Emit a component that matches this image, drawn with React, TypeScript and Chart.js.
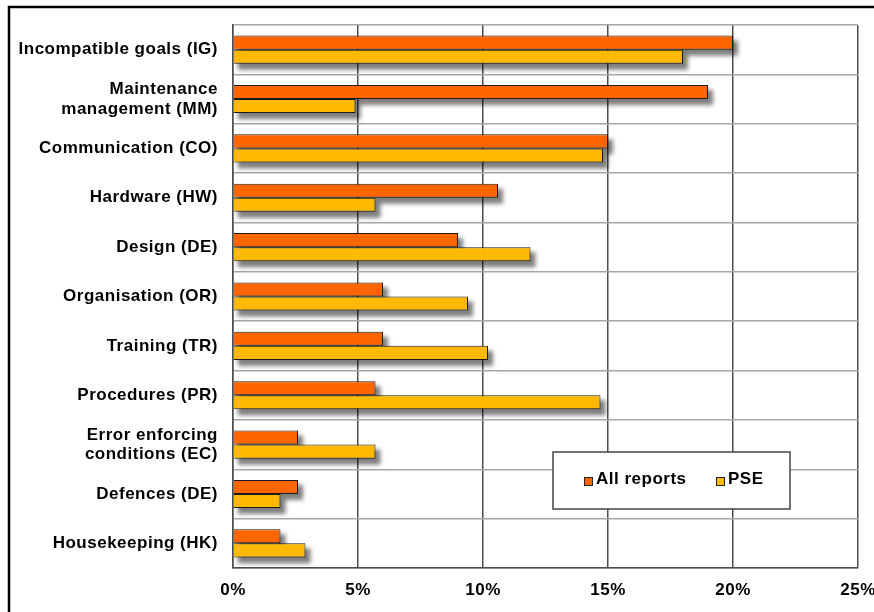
import React, { useEffect, useRef } from "react";
import { Chart, registerables } from "chart.js";

Chart.register(...registerables);

const categories: (string | string[])[] = [
  "Incompatible goals (IG)",
  ["Maintenance", "management (MM)"],
  "Communication (CO)",
  "Hardware (HW)",
  "Design (DE)",
  "Organisation (OR)",
  "Training (TR)",
  "Procedures (PR)",
  ["Error enforcing", "conditions (EC)"],
  "Defences (DE)",
  "Housekeeping (HK)",
];

const allReports = [20, 19, 15, 10.6, 9, 6, 6, 5.7, 2.6, 2.6, 1.9];
const pse = [18, 4.9, 14.8, 5.7, 11.9, 9.4, 10.2, 14.7, 5.7, 1.9, 2.9];

const seriesNames = ["All reports", "PSE"];
const seriesColors = ["#FF6600", "#FFB900"];
const xTicks = [0, 5, 10, 15, 20, 25];

const FONT = "'Liberation Sans', Arial, sans-serif";
const FS = 17;

const spacingPlugin = {
  id: "letterSpacing",
  beforeDraw(chart: any) {
    chart.ctx.letterSpacing = "0.5px";
  },
  beforeLayout(chart: any) {
    chart.ctx.letterSpacing = "0.5px";
  },
};

const shadowPlugin = {
  id: "barShadow",
  beforeDatasetsDraw(chart: any) {
    const ctx = chart.ctx;
    ctx.save();
    ctx.filter = "blur(2px)";
    ctx.fillStyle = "rgba(0,0,0,0.5)";
    chart.data.datasets.forEach((_: any, di: number) => {
      const meta = chart.getDatasetMeta(di);
      meta.data.forEach((el: any) => {
        const p = el.getProps(["x", "y", "base", "height"], true);
        const left = Math.min(p.base, p.x);
        const right = Math.max(p.base, p.x);
        ctx.fillRect(left + 4, p.y - p.height / 2 + 5, right - left + 1, p.height + 1);
      });
    });
    ctx.restore();
  },
};

const framePlugin = {
  id: "frameLegend",
  afterDraw(chart: any) {
    const ctx = chart.ctx;
    ctx.save();
    ctx.letterSpacing = "0.5px";
    // outer frame
    ctx.strokeStyle = "#000";
    ctx.lineWidth = 2.5;
    ctx.beginPath();
    ctx.moveTo(9, 612);
    ctx.lineTo(9, 7);
    ctx.lineTo(874, 7);
    ctx.stroke();
    // legend box
    const bx = 553, by = 452, bw = 237, bh = 57;
    ctx.fillStyle = "#fff";
    ctx.fillRect(bx, by, bw, bh);
    ctx.strokeStyle = "#444";
    ctx.lineWidth = 1.5;
    ctx.strokeRect(bx, by, bw, bh);
    const items = [
      { mx: 584, tx: 596 },
      { mx: 716, tx: 728 },
    ];
    ctx.font = `bold ${FS}px ${FONT}`;
    ctx.textBaseline = "middle";
    ctx.textAlign = "left";
    chart.data.datasets.forEach((ds: any, i: number) => {
      const it = items[i];
      ctx.fillStyle = ds.backgroundColor;
      ctx.fillRect(it.mx, 477, 9, 9);
      ctx.strokeStyle = "#222";
      ctx.lineWidth = 1;
      ctx.strokeRect(it.mx + 0.5, 477.5, 8, 8);
      ctx.fillStyle = "#000";
      ctx.fillText(ds.label, it.tx, 479);
    });
    ctx.restore();
  },
};

export default function App() {
  const ref = useRef<HTMLCanvasElement>(null);
  useEffect(() => {
    if (!ref.current) return;
    const chart = new Chart(ref.current, {
      type: "bar",
      data: {
        labels: categories,
        datasets: [
          {
            label: seriesNames[0],
            data: allReports,
            backgroundColor: seriesColors[0],
            borderColor: "#1a1a1a",
            borderWidth: 1,
            categoryPercentage: 0.57,
            barPercentage: 1,
          },
          {
            label: seriesNames[1],
            data: pse,
            backgroundColor: seriesColors[1],
            borderColor: "#1a1a1a",
            borderWidth: 1,
            categoryPercentage: 0.57,
            barPercentage: 1,
          },
        ],
      },
      options: {
        indexAxis: "y",
        animation: false,
        responsive: false,
        maintainAspectRatio: false,
        layout: { padding: { top: 25, right: 16, left: 0, bottom: 0 } },
        plugins: { legend: { display: false }, tooltip: { enabled: false } },
        scales: {
          x: {
            min: 0,
            max: 25,
            afterBuildTicks: (scale: any) => {
              scale.ticks = xTicks.map((v) => ({ value: v }));
            },
            afterFit: (scale: any) => {
              scale.height = 44;
              scale.paddingLeft = 0;
              scale.paddingRight = 0;
            },
            grid: { color: "#4d4d4d", lineWidth: 1.5, drawTicks: false },
            border: { color: "#4d4d4d", width: 1.5 },
            ticks: {
              padding: 12,
              color: "#000",
              font: { family: FONT, size: FS, weight: "bold" },
              callback: (v: any) => `${v}%`,
            },
          },
          y: {
            afterFit: (scale: any) => {
              scale.width = 233;
              scale.paddingTop = 0;
              scale.paddingBottom = 0;
            },
            grid: { color: "#a6a6a6", lineWidth: 1.5, drawTicks: false, offset: true },
            border: { color: "#4d4d4d", width: 1.5 },
            ticks: {
              padding: 15,
              color: "#000",
              font: { family: FONT, size: FS, weight: "bold", lineHeight: 1.15 },
            },
          },
        },
      },
      plugins: [spacingPlugin, shadowPlugin, framePlugin],
    } as any);
    return () => chart.destroy();
  }, []);
  return (
    <div style={{ position: "fixed", left: 0, top: 0, width: 874, height: 612, background: "#fff" }}>
      <canvas ref={ref} width={874} height={612} style={{ display: "block" }} />
    </div>
  );
}
